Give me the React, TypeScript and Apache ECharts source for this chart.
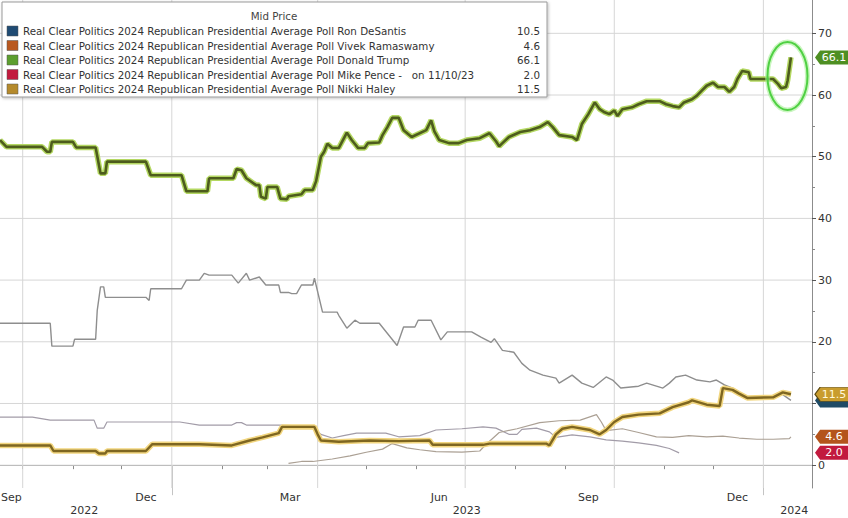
import React, { useEffect, useRef } from "react";
import * as echarts from "echarts";

// ---------- data ----------
const trumpDates = [
  "2022-09-17","2022-09-21","2022-10-13","2022-10-16","2022-10-18","2022-10-19","2022-11-01","2022-11-03",
  "2022-11-15","2022-11-16","2022-11-18","2022-11-21","2022-11-22","2022-12-16","2022-12-19","2023-01-07",
  "2023-01-10","2023-01-23","2023-01-24","2023-02-08","2023-02-10","2023-02-13","2023-02-16","2023-02-22",
  "2023-02-24","2023-02-25","2023-02-28","2023-03-01","2023-03-07","2023-03-09","2023-03-13","2023-03-14",
  "2023-03-22","2023-03-24","2023-03-29","2023-03-31","2023-04-03","2023-04-05","2023-04-07","2023-04-10",
  "2023-04-14","2023-04-19","2023-04-22","2023-04-26","2023-04-30","2023-05-02","2023-05-09","2023-05-11",
  "2023-05-14","2023-05-17","2023-05-21","2023-05-24","2023-05-29","2023-06-07","2023-06-10","2023-06-12",
  "2023-06-15","2023-06-21","2023-06-27","2023-07-02","2023-07-10","2023-07-16","2023-07-20","2023-07-22",
  "2023-07-24","2023-07-28","2023-08-04","2023-08-10","2023-08-16","2023-08-21","2023-08-24","2023-08-28",
  "2023-09-05","2023-09-08","2023-09-11","2023-09-15","2023-09-19","2023-09-22","2023-09-25","2023-09-28",
  "2023-10-01","2023-10-03","2023-10-06","2023-10-12","2023-10-16","2023-10-21","2023-10-29","2023-11-02",
  "2023-11-06","2023-11-10","2023-11-13","2023-11-18","2023-11-21","2023-11-24","2023-11-27","2023-12-01",
  "2023-12-04","2023-12-08","2023-12-11","2023-12-14","2023-12-16","2023-12-19","2023-12-23","2023-12-24",
  "2024-01-07","2024-01-10","2024-01-12","2024-01-15","2024-01-16","2024-01-18"
];
const trumpValues = [
  52.7,51.6,51.6,50.8,50.8,52.4,52.4,51.5,
  51.5,50.1,47.3,47.3,49.2,49.2,47.0,47.0,
  44.4,44.4,46.5,46.5,48.0,47.8,46.5,45.4,
  45.4,43.5,43.2,45.1,45.1,43.2,43.1,43.6,
  43.9,44.6,44.6,46.0,50.0,50.8,52.1,51.4,
  51.4,53.9,52.7,51.4,51.4,52.2,52.3,53.5,
  54.8,56.3,56.3,54.3,53.2,54.3,55.9,54.1,
  52.7,52.2,52.2,52.7,53.0,53.8,52.5,51.7,
  52.2,53.2,54.0,54.3,54.8,55.6,54.8,53.5,
  53.2,52.7,55.3,56.9,58.8,57.7,57.2,56.9,
  57.5,56.6,57.7,58.0,58.5,59.0,59.0,58.5,
  58.2,58.0,58.8,59.3,59.9,60.7,61.5,62.0,
  61.3,61.3,60.5,61.3,62.6,63.9,63.7,62.6,
  62.6,61.8,61.1,61.3,62.4,66.1
];

const desantisDates = [
  "2022-09-17","2022-10-18","2022-10-19","2022-11-01","2022-11-02","2022-11-15","2022-11-16","2022-11-18",
  "2022-11-20","2022-11-21","2022-12-16","2022-12-18","2022-12-19","2023-01-07","2023-01-10","2023-01-18",
  "2023-01-21","2023-01-24","2023-02-07","2023-02-11","2023-02-16","2023-02-18","2023-02-24","2023-02-28",
  "2023-03-08","2023-03-09","2023-03-14","2023-03-16","2023-03-19","2023-03-22","2023-03-29","2023-03-30",
  "2023-04-04","2023-04-13","2023-04-14","2023-04-19","2023-04-24","2023-04-27","2023-05-09","2023-05-20",
  "2023-05-24","2023-05-31","2023-06-02","2023-06-10","2023-06-16","2023-06-20","2023-07-05","2023-07-11",
  "2023-07-17","2023-07-19","2023-07-24","2023-07-31","2023-08-05","2023-08-10","2023-08-18","2023-08-26",
  "2023-08-28","2023-09-05","2023-09-11","2023-09-18","2023-09-26","2023-09-30","2023-10-05","2023-10-16",
  "2023-10-21","2023-10-31","2023-11-04","2023-11-08","2023-11-14","2023-11-21","2023-11-29","2023-12-03",
  "2023-12-08","2023-12-13","2023-12-17","2023-12-22","2024-01-07","2024-01-11","2024-01-18"
];
const desantisValues = [
  23.0,23.0,19.3,19.3,20.4,20.4,25.1,28.9,
  28.9,27.2,27.2,26.7,28.6,28.6,30.0,30.0,
  31.1,30.8,30.8,29.5,31.1,30.0,30.5,29.2,
  29.2,28.0,28.0,27.8,27.8,29.2,29.2,30.3,
  24.8,24.8,24.3,22.2,23.5,23.0,23.0,19.4,
  22.4,22.4,23.5,23.5,20.3,21.6,21.6,20.7,
  19.9,20.5,18.6,18.3,16.5,15.4,14.6,14.1,
  13.3,14.6,13.3,12.6,14.3,13.8,12.5,12.8,
  13.3,12.5,13.3,14.3,14.6,13.8,13.5,13.8,
  13.0,12.5,11.9,11.0,11.0,11.8,10.5
];

const haleyDates = [
  "2022-09-17","2022-10-18","2022-10-20","2022-11-15","2022-11-17","2022-11-21","2022-11-22","2022-12-16",
  "2022-12-20","2023-01-18","2023-02-07","2023-02-18","2023-02-26","2023-03-08","2023-03-10","2023-03-30",
  "2023-04-01","2023-04-03","2023-04-14","2023-05-03","2023-05-21","2023-06-09","2023-06-11","2023-07-12",
  "2023-07-16","2023-08-20","2023-08-22","2023-08-26","2023-08-30","2023-09-05","2023-09-16","2023-09-22",
  "2023-09-26","2023-10-01","2023-10-06","2023-10-16","2023-10-29","2023-11-06","2023-11-16","2023-11-18",
  "2023-11-27","2023-12-05","2023-12-07","2023-12-13","2023-12-17","2023-12-22","2024-01-07","2024-01-13",
  "2024-01-18"
];
const haleyValues = [
  3.2,3.2,2.3,2.3,1.9,1.9,2.3,2.3,
  3.4,3.4,3.2,4.0,4.5,5.2,6.2,6.2,
  5.0,4.0,3.8,4.0,3.9,4.0,3.3,3.3,
  3.5,3.5,3.2,5.0,5.9,6.2,5.7,5.0,
  5.7,7.0,7.8,8.2,8.4,9.4,10.2,10.5,
  9.8,9.6,12.5,12.2,11.6,10.9,11.0,11.8,
  11.5
];

const ramaswamyDates = [
  "2023-03-14","2023-03-22","2023-03-29","2023-04-10","2023-04-21","2023-05-01","2023-05-11","2023-05-17",
  "2023-05-26","2023-06-03","2023-06-13","2023-06-29","2023-07-10","2023-07-14","2023-07-22","2023-08-02",
  "2023-08-16","2023-08-28","2023-09-10","2023-09-20","2023-09-23","2023-09-26","2023-10-06","2023-10-16",
  "2023-10-27","2023-11-06","2023-11-16","2023-11-27","2023-12-07","2023-12-17","2023-12-28","2024-01-07",
  "2024-01-17","2024-01-18"
];
const ramaswamyValues = [
  0.3,0.6,0.6,1.0,1.5,2.1,2.6,3.5,
  2.8,2.5,2.2,2.1,2.3,3.4,5.3,5.9,
  6.9,7.2,7.3,8.2,7.0,5.6,5.9,5.3,
  4.6,4.5,4.8,4.6,4.7,4.4,4.2,4.2,
  4.3,4.6
];

const penceDates = [
  "2022-09-17","2022-10-07","2022-10-18","2022-11-14","2022-11-16","2022-11-20","2022-11-22","2023-01-06",
  "2023-01-18","2023-02-07","2023-02-10","2023-02-13","2023-02-16","2023-03-08","2023-03-29","2023-04-03",
  "2023-04-10","2023-04-17","2023-04-25","2023-05-13","2023-05-21","2023-06-03","2023-06-13","2023-06-29",
  "2023-07-12","2023-07-20","2023-07-28","2023-08-02","2023-08-05","2023-08-14","2023-08-22","2023-08-26",
  "2023-09-05","2023-09-16","2023-09-26","2023-10-06","2023-10-16","2023-10-27","2023-11-04","2023-11-10"
];
const penceValues = [
  7.8,7.8,7.3,7.3,6.0,6.0,7.0,7.0,
  6.5,6.5,6.9,6.9,6.5,6.5,6.3,5.0,
  4.4,4.8,5.2,5.2,4.6,4.8,5.7,5.9,
  6.2,6.0,5.0,5.0,5.8,6.0,5.4,4.5,
  4.9,4.6,4.1,3.9,3.6,3.2,2.7,2.0
];

const legendTitle = "Mid Price";
const legendNames = [
  "Real Clear Politics 2024 Republican Presidential Average Poll Ron DeSantis",
  "Real Clear Politics 2024 Republican Presidential Average Poll Vivek Ramaswamy",
  "Real Clear Politics 2024 Republican Presidential Average Poll Donald Trump",
  "Real Clear Politics 2024 Republican Presidential Average Poll Mike Pence -   on 11/10/23",
  "Real Clear Politics 2024 Republican Presidential Average Poll Nikki Haley",
];
const legendValues = ["10.5", "4.6", "66.1", "2.0", "11.5"];
const legendColors = ["#1f4b73", "#b9581f", "#5c9e2e", "#c21a3e", "#b58a2c"];

const xMin = "2022-09-17";
const xMax = "2024-01-31";
const yMin = -3.7;
const yMax = 75.4;
const quarterStarts = ["2022-10-01","2023-01-01","2023-04-01","2023-07-01","2023-10-01","2024-01-01"];
const monthStarts = [
  "2022-10-01","2022-11-01","2022-12-01","2023-01-01","2023-02-01","2023-03-01","2023-04-01","2023-05-01",
  "2023-06-01","2023-07-01","2023-08-01","2023-09-01","2023-10-01","2023-11-01","2023-12-01","2024-01-01"
];
const monthLabelDates = ["2022-09-24","2022-12-16","2023-03-15","2023-06-15","2023-09-15","2023-12-16"];
const monthLabels = ["Sep", "Dec", "Mar", "Jun", "Sep", "Dec"];
const yearLabelDates = ["2022-11-08", "2023-07-02", "2024-01-20"];
const yearLabels = ["2022", "2023", "2024"];
const yearBreaks = ["2023-01-01", "2024-01-01"];
const yMajorTicks = [0, 10, 20, 30, 40, 50, 60, 70];
const yLabelValues = [0, 20, 30, 40, 50, 60, 70]; // "10" sits behind the value tags in the reference
const yMinorTicks = [5, 15, 25, 35, 45, 55, 65];

// ---------- helpers ----------
const ts = (s: string) => {
  const [y, m, d] = s.split("-").map(Number);
  return Date.UTC(y, m - 1, d);
};
const pairs = (dates: string[], vals: number[]) => dates.map((d, i) => [ts(d), vals[i]]);
const lookup = (dates: string[], labels: string[]) => (v: number) => {
  for (let i = 0; i < dates.length; i++) if (Math.abs(ts(dates[i]) - v) < 43200000) return labels[i];
  return "";
};

const FONT = "DejaVu Sans";
const TAG = "path://M0,7L6,0L40,0L40,14L6,14Z";

function tag(value: number, bg: string, z: number, showText = true, textColor = "#ffffff", border?: string) {
  return {
    symbol: TAG,
    symbolSize: [34, 14],
    symbolOffset: [20, 0],
    z,
    silent: true,
    itemStyle: { color: bg, borderColor: border || bg, borderWidth: border ? 1 : 0 },
    label: {
      show: showText,
      position: "inside",
      offset: [2, 0],
      formatter: value.toFixed(1),
      color: textColor,
      fontSize: 11,
      fontFamily: FONT,
    },
    data: [{ coord: [ts(xMax), value], value }],
  };
}

function gridSeries(name: string, data: number[][]) {
  return {
    name,
    type: "line",
    data,
    silent: true,
    showSymbol: false,
    symbol: "none",
    clip: false,
    lineStyle: { type: "solid", color: "#d6d6d6", width: 1 },
    z: 1,
  };
}

export default function App() {
  const ref = useRef<HTMLDivElement>(null);
  useEffect(() => {
    if (!ref.current) return;
    const chart = echarts.init(ref.current, undefined, { renderer: "svg" });
    const last = (a: number[]) => a[a.length - 1];

    const rowY = (i: number) => 31 + i * 14.5;
    const legendGraphic: any[] = [
      {
        type: "rect",
        shape: { x: 2, y: 2, width: 545, height: 95 },
        style: { fill: "#ffffff", stroke: "#9a9a9a", lineWidth: 1, shadowBlur: 3, shadowColor: "rgba(0,0,0,0.25)", shadowOffsetX: 1, shadowOffsetY: 1 },
        z: 100,
      },
      {
        type: "text",
        x: 274,
        y: 16,
        style: { text: legendTitle, fontSize: 10.3, fontFamily: FONT, fill: "#444", align: "center", verticalAlign: "middle" },
        z: 101,
      },
    ];
    legendNames.forEach((name, i) => {
      legendGraphic.push({
        type: "rect",
        shape: { x: 7, y: rowY(i) - 5, width: 11, height: 10 },
        style: { fill: legendColors[i], stroke: "#555", lineWidth: 0.5 },
        z: 101,
      });
      legendGraphic.push({
        type: "text",
        x: 23,
        y: rowY(i),
        style: { text: name, fontSize: 10.3, fontFamily: FONT, fill: "#333", align: "left", verticalAlign: "middle" },
        z: 101,
      });
      legendGraphic.push({
        type: "text",
        x: 540,
        y: rowY(i),
        style: { text: legendValues[i], fontSize: 10.3, fontFamily: FONT, fill: "#333", align: "right", verticalAlign: "middle" },
        z: 101,
      });
    });

    const hGrid = yMajorTicks.map((v) => gridSeries("h" + v, [[ts(xMin), v], [ts(xMax), v]]));
    const vGrid = quarterStarts.map((d) => gridSeries("v" + d, [[ts(d), yMin], [ts(d), yMax]]));

    const option: any = {
      animation: false,
      backgroundColor: "#ffffff",
      grid: { left: 0, right: 36, top: 0, bottom: 30, containLabel: false, outerBoundsMode: "none" },
      xAxis: [
        {
          type: "value",
          position: "bottom",
          min: ts(xMin),
          max: ts(xMax),
          axisLine: { show: true, lineStyle: { color: "#8c8c8c", width: 1 } },
          axisTick: { show: true, customValues: monthStarts.map(ts), length: 4, lineStyle: { color: "#8c8c8c" } },
          axisLabel: {
            customValues: monthLabelDates.map(ts),
            formatter: lookup(monthLabelDates, monthLabels),
            color: "#333",
            fontSize: 11,
            fontFamily: FONT,
            margin: 4,
          },
          splitLine: { show: false },
        },
        {
          type: "value",
          position: "bottom",
          min: ts(xMin),
          max: ts(xMax),
          axisLine: { show: false },
          axisTick: { show: true, customValues: yearBreaks.map(ts), length: 30, lineStyle: { color: "#c4c4c4" } },
          axisLabel: {
            customValues: yearLabelDates.map(ts),
            formatter: lookup(yearLabelDates, yearLabels),
            color: "#333",
            fontSize: 11,
            fontFamily: FONT,
            margin: 17,
          },
          splitLine: { show: false },
        },
      ],
      yAxis: [
        {
          type: "value",
          position: "right",
          min: yMin,
          max: yMax,
          minInterval: 10,
          maxInterval: 10,
          axisLine: { show: true, lineStyle: { color: "#8c8c8c" } },
          axisTick: { show: true, customValues: yMajorTicks, length: 4, lineStyle: { color: "#555" } },
          axisLabel: { customValues: yLabelValues, color: "#333", fontSize: 11, fontFamily: FONT, margin: 6 },
          splitLine: { show: false },
        },
        {
          type: "value",
          position: "right",
          min: yMin,
          max: yMax,
          minInterval: 10,
          maxInterval: 10,
          axisLine: { show: false },
          axisTick: { show: true, customValues: yMinorTicks, length: 3, lineStyle: { color: "#888" } },
          axisLabel: { show: false },
          splitLine: { show: false },
        },
      ],
      graphic: [
        ...legendGraphic,
        {
          type: "ellipse",
          shape: { cx: 787.5, cy: 76, rx: 20, ry: 34 },
          style: { fill: "none", stroke: "#a6f096", lineWidth: 5, opacity: 0.6 },
          z: 50,
        },
        {
          type: "ellipse",
          shape: { cx: 787.5, cy: 76, rx: 20, ry: 34 },
          style: { fill: "none", stroke: "#4fd043", lineWidth: 2 },
          z: 51,
        },
      ],
      series: [
        ...hGrid,
        ...vGrid,
        {
          name: "Ron DeSantis",
          type: "line",
          data: pairs(desantisDates, desantisValues),
          showSymbol: false,
          symbol: "none",
          clip: false,
          lineStyle: { color: "#8e8e8e", width: 1.4 },
          z: 3,
          markPoint: tag(last(desantisValues), "#1f4b66", 5, false),
        },
        {
          name: "Mike Pence",
          type: "line",
          data: pairs(penceDates, penceValues),
          showSymbol: false,
          symbol: "none",
          clip: false,
          lineStyle: { color: "#a29ca8", width: 1.2 },
          z: 3,
          markPoint: tag(last(penceValues), "#c21a3e", 7),
        },
        {
          name: "Vivek Ramaswamy",
          type: "line",
          data: pairs(ramaswamyDates, ramaswamyValues),
          showSymbol: false,
          symbol: "none",
          clip: false,
          lineStyle: { color: "#aba094", width: 1.2 },
          z: 3,
          markPoint: tag(last(ramaswamyValues), "#b4541c", 7),
        },
        {
          name: "Nikki Haley glow",
          type: "line",
          data: pairs(haleyDates, haleyValues),
          showSymbol: false,
          symbol: "none",
          lineStyle: { color: "#f2d67f", width: 5.5 },
          z: 4,
        },
        {
          name: "Nikki Haley",
          type: "line",
          data: pairs(haleyDates, haleyValues),
          showSymbol: false,
          symbol: "none",
          clip: false,
          lineStyle: { color: "#7e6621", width: 2.4 },
          z: 5,
          markPoint: tag(last(haleyValues), "#c99c2e", 6, true, "#fff8dc", "#5c4a12"),
        },
        {
          name: "Donald Trump glow",
          type: "line",
          data: pairs(trumpDates, trumpValues),
          showSymbol: false,
          symbol: "none",
          lineStyle: { color: "#b4d862", width: 5.5 },
          z: 6,
        },
        {
          name: "Donald Trump",
          type: "line",
          data: pairs(trumpDates, trumpValues),
          showSymbol: false,
          symbol: "none",
          clip: false,
          lineStyle: { color: "#4d5c1d", width: 2.6 },
          z: 7,
          markPoint: tag(last(trumpValues), "#4e8f22", 7),
        },
      ],
    };
    chart.setOption(option);
    return () => chart.dispose();
  }, []);
  return (
    <div
      ref={ref}
      style={{ position: "absolute", left: 0, top: 0, width: 848, height: 518, background: "#fff" }}
    />
  );
}
